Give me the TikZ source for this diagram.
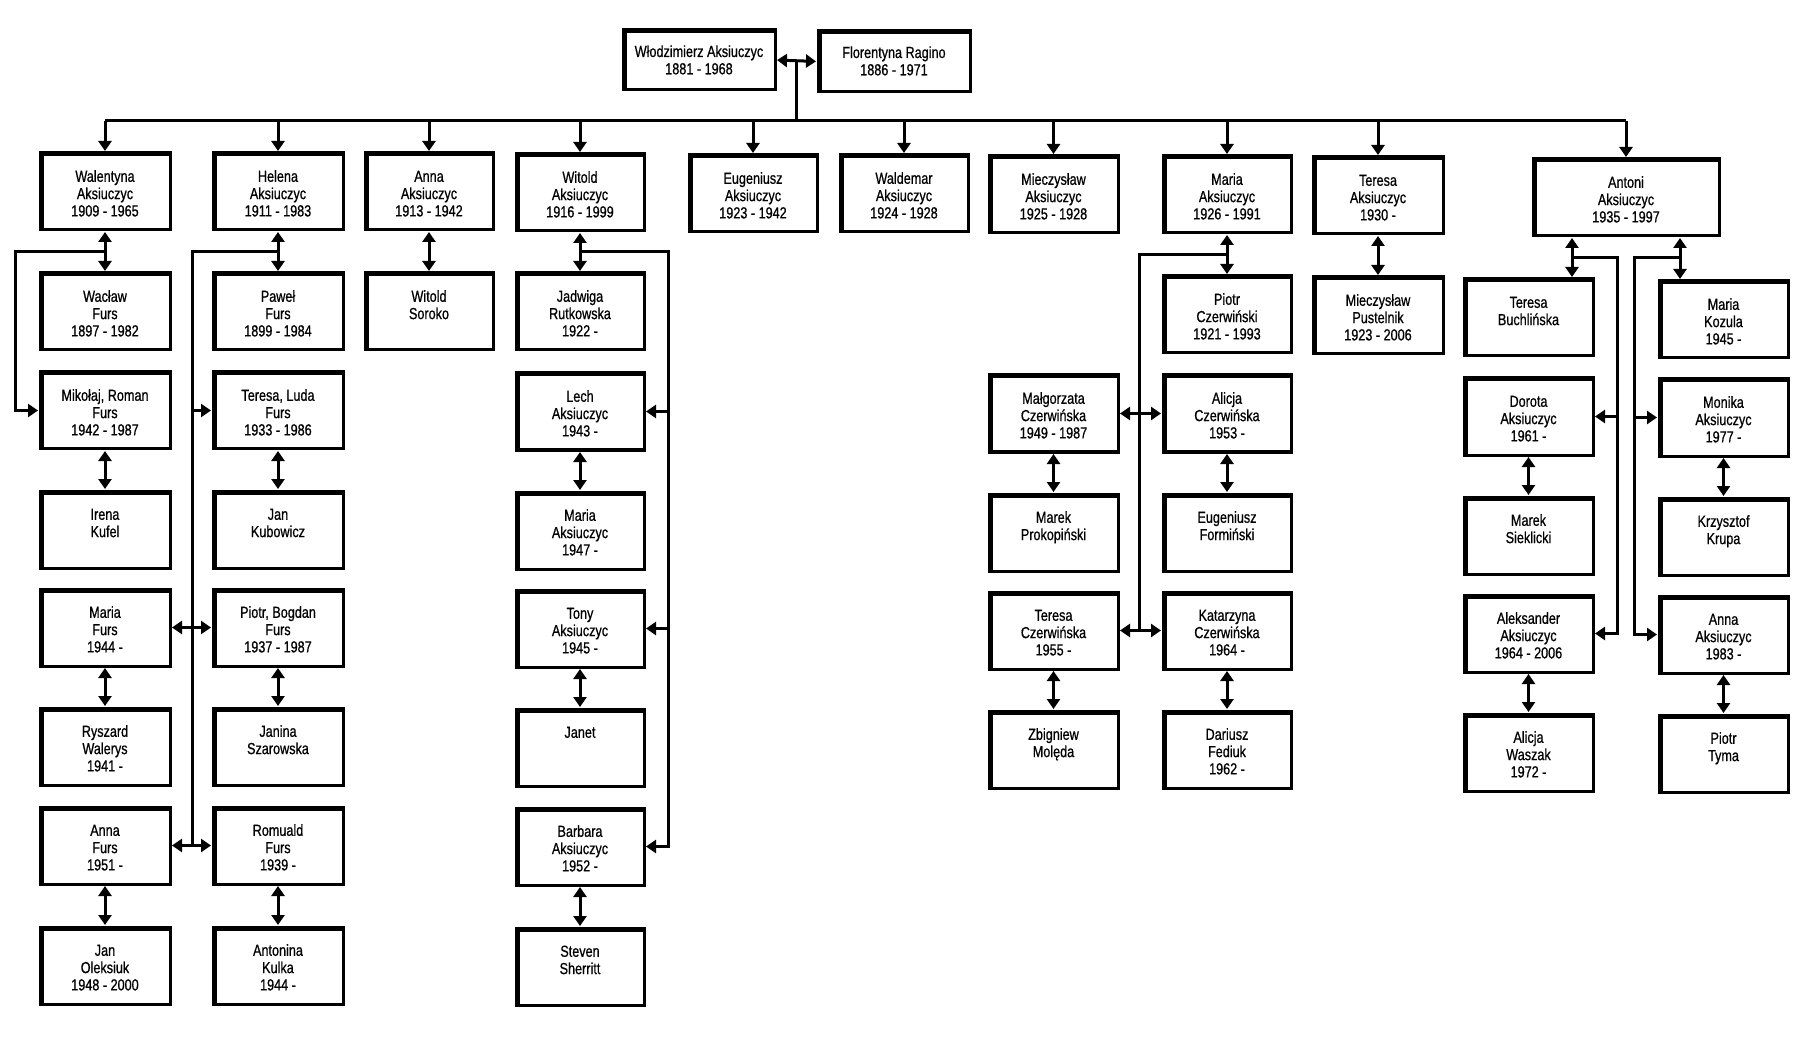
\documentclass[tikz,border=0pt]{standalone}
\usepackage{fontspec}
\setmainfont{Liberation Sans}[FakeStretch=0.79,FakeBold=0.7]
\usetikzlibrary{arrows.meta,calc}
\newcommand\boxtext[4]{\parbox[c][\dimexpr #1pt/2\relax][t]{\dimexpr #2pt/2\relax}{\centering\rule{0pt}{#3}#4\par}}
\newcommand\person[6]{\node[pbox, minimum width={#4*0.5pt}, minimum height={#5*0.5pt}] (#1) at (#2,#3) {\boxtext{#5}{#4}{14.4pt}{#6}};}
\tikzset{
  pbox/.style={draw, line width=1.5pt, inner sep=0pt, outer sep=0pt, anchor=north west,
    path picture={\draw[line width=3.5pt] (path picture bounding box.south west) -- (path picture bounding box.north west) -- (path picture bounding box.north east);}},
  ln/.style={line width=1.5pt},
  arr/.style={line width=1.5pt, -{Triangle[length=5pt,width=6.5pt]}, shorten >=1pt},
  dbl/.style={line width=1.5pt, {Triangle[length=5pt,width=6.5pt]}-{Triangle[length=5pt,width=6.5pt]}, shorten >=1pt, shorten <=1pt},
}
\begin{document}
\begin{tikzpicture}[x=0.5pt,y=-0.5pt,font=\fontsize{8pt}{8.65pt}\selectfont]
\useasboundingbox (0,0) rectangle (1806,1043);
\fill[white] (0,0) rectangle (1806,1043);

% parents
\node[pbox, minimum width={152*0.5pt}, minimum height={60*0.5pt}] (wlo) at (623,30) {\boxtext{60}{152}{13.5pt}{Włodzimierz Aksiuczyc\\1881 - 1968}};
\node[pbox, minimum width={152*0.5pt}, minimum height={61*0.5pt}] (flo) at (818,31) {\boxtext{61}{152}{13.5pt}{Florentyna Ragino\\1886 - 1971}};

% column A
\person{wal}{40}{153}{130}{77}{Walentyna\\Aksiuczyc\\1909 - 1965}
\person{wac}{40}{273}{130}{77}{Wacław\\Furs\\1897 - 1982}
\person{mik}{40}{372}{130}{77}{Mikołaj, Roman\\Furs\\1942 - 1987}
\person{ire}{40}{491}{130}{77}{Irena\\Kufel}
\person{maf}{40}{589}{130}{77}{Maria\\Furs\\1944 -}
\person{rys}{40}{708}{130}{77}{Ryszard\\Walerys\\1941 -}
\person{anf}{40}{807}{130}{77}{Anna\\Furs\\1951 -}
\person{jol}{40}{927}{130}{77}{Jan\\Oleksiuk\\1948 - 2000}

% column B
\person{hel}{213}{153}{130}{77}{Helena\\Aksiuczyc\\1911 - 1983}
\person{paw}{213}{273}{130}{77}{Paweł\\Furs\\1899 - 1984}
\person{ter}{213}{372}{130}{77}{Teresa, Luda\\Furs\\1933 - 1986}
\person{kub}{213}{491}{130}{77}{Jan\\Kubowicz}
\person{pio}{213}{589}{130}{77}{Piotr, Bogdan\\Furs\\1937 - 1987}
\person{jsz}{213}{708}{130}{77}{Janina\\Szarowska}
\person{rom}{213}{807}{130}{77}{Romuald\\Furs\\1939 -}
\person{ant}{213}{927}{130}{77}{Antonina\\Kulka\\1944 -}

% column C
\person{ann}{365}{153}{128}{77}{Anna\\Aksiuczyc\\1913 - 1942}
\person{wso}{365}{273}{128}{77}{Witold\\Soroko}

% column D
\person{wit}{516}{154}{128}{77}{Witold\\Aksiuczyc\\1916 - 1999}
\person{jad}{516}{273}{128}{77}{Jadwiga\\Rutkowska\\1922 -}
\person{lec}{516}{373}{128}{77}{Lech\\Aksiuczyc\\1943 -}
\person{mar}{516}{492}{128}{77}{Maria\\Aksiuczyc\\1947 -}
\person{ton}{516}{590}{128}{77}{Tony\\Aksiuczyc\\1945 -}
\person{jnt}{516}{709}{128}{77}{Janet}
\person{bar}{516}{808}{128}{77}{Barbara\\Aksiuczyc\\1952 -}
\person{ste}{516}{928}{128}{77}{Steven\\Sherritt}

% single boxes
\person{eug}{689}{155}{128}{77}{Eugeniusz\\Aksiuczyc\\1923 - 1942}
\person{wld}{840}{155}{128}{77}{Waldemar\\Aksiuczyc\\1924 - 1928}
\person{mie}{989}{156}{129}{77}{Mieczysław\\Aksiuczyc\\1925 - 1928}

% Maria group
\person{mac}{1163}{156}{128}{77}{Maria\\Aksiuczyc\\1926 - 1991}
\person{pcz}{1163}{276}{128}{77}{Piotr\\Czerwiński\\1921 - 1993}
\person{mal}{989}{375}{129}{77}{Małgorzata\\Czerwińska\\1949 - 1987}
\person{alc}{1163}{375}{128}{77}{Alicja\\Czerwińska\\1953 -}
\person{mpr}{989}{494}{129}{77}{Marek\\Prokopiński}
\person{efo}{1163}{494}{128}{77}{Eugeniusz\\Formiński}
\person{tcz}{989}{592}{129}{77}{Teresa\\Czerwińska\\1955 -}
\person{kcz}{1163}{592}{128}{77}{Katarzyna\\Czerwińska\\1964 -}
\person{zmo}{989}{711}{129}{77}{Zbigniew\\Molęda}
\person{dfe}{1163}{711}{128}{77}{Dariusz\\Fediuk\\1962 -}

% Teresa
\person{tac}{1313}{157}{130}{77}{Teresa\\Aksiuczyc\\1930 -}
\person{mpu}{1313}{277}{130}{77}{Mieczysław\\Pustelnik\\1923 - 2006}

% Antoni group
\person{aak}{1533}{159}{186}{77}{Antoni\\Aksiuczyc\\1935 - 1997}
\person{tbu}{1464}{279}{129}{77}{Teresa\\Buchlińska}
\person{dor}{1464}{378}{129}{77}{Dorota\\Aksiuczyc\\1961 -}
\person{msi}{1464}{497}{129}{77}{Marek\\Sieklicki}
\person{ale}{1464}{595}{129}{77}{Aleksander\\Aksiuczyc\\1964 - 2006}
\person{awa}{1464}{714}{129}{77}{Alicja\\Waszak\\1972 -}
\person{mko}{1659}{281}{129}{77}{Maria\\Kozula\\1945 -}
\person{mon}{1659}{379}{129}{77}{Monika\\Aksiuczyc\\1977 -}
\person{kkr}{1659}{498}{129}{77}{Krzysztof\\Krupa}
\person{aan}{1659}{596}{129}{77}{Anna\\Aksiuczyc\\1983 -}
\person{pty}{1659}{715}{129}{77}{Piotr\\Tyma}

% parents and bus
\draw[dbl] (wlo.east) -- (flo.west);
\coordinate (tm) at (796,61);
\coordinate (bus) at (796,121);
\draw[ln] (tm) -- (bus);
\draw[ln] (wal.north |- bus) -- (aak.north |- bus);
\foreach \n in {wal,hel,ann,wit,eug,wld,mie,mac,tac,aak}
  \draw[arr] (\n.north |- bus) -- (\n.north);

% couples / vertical links
\foreach \a/\b in {wal/wac,mik/ire,maf/rys,anf/jol,hel/paw,ter/kub,pio/jsz,rom/ant,ann/wso,wit/jad,lec/mar,ton/jnt,bar/ste,mac/pcz,mal/mpr,alc/efo,tcz/zmo,kcz/dfe,tac/mpu,dor/msi,ale/awa,mon/kkr,aan/pty}
  \draw[dbl] (\a.south) -- (\b.north);

% column A loop
\coordinate (jA) at ($(wal.south)!0.5!(wac.north)$);
\coordinate (vA) at (15,0);
\draw[arr] (jA) -| (vA |- mik.west) -- (mik.west);

% column B loop
\coordinate (jB) at ($(hel.south)!0.5!(paw.north)$);
\coordinate (vB) at (192,0);
\draw[ln] (jB) -| (vB |- rom.west);
\draw[arr] (vB |- ter.west) -- (ter.west);
\draw[dbl] (maf.east) -- (pio.west);
\draw[dbl] (anf.east) -- (rom.west);

% column D loop
\coordinate (jD) at ($(wit.south)!0.5!(jad.north)$);
\coordinate (vD) at (668,0);
\draw[arr] (jD) -| (vD |- bar.east) -- (bar.east);
\draw[arr] (vD |- lec.east) -- (lec.east);
\draw[arr] (vD |- ton.east) -- (ton.east);

% Maria loop
\coordinate (jM) at ($(mac.south)!0.5!(pcz.north)$);
\coordinate (vM) at (1139,0);
\draw[ln] (jM) -| (vM |- tcz.east);
\draw[dbl] (mal.east) -- (alc.west);
\draw[dbl] (tcz.east) -- (kcz.west);

% Antoni loops
\draw[dbl] ([xshift=-27pt]aak.south) -- ([xshift=-27pt]aak.south |- tbu.north);
\draw[dbl] ([xshift=27pt]aak.south) -- ([xshift=27pt]aak.south |- mko.north);
\coordinate (jL) at (1572,257.5);
\coordinate (vL) at (1617,0);
\draw[arr] (jL) -| (vL |- ale.east) -- (ale.east);
\draw[arr] (vL |- dor.east) -- (dor.east);
\coordinate (jR) at (1680,257.5);
\coordinate (vR) at (1634,0);
\draw[arr] (jR) -| (vR |- aan.west) -- (aan.west);
\draw[arr] (vR |- mon.west) -- (mon.west);
\end{tikzpicture}
\end{document}
